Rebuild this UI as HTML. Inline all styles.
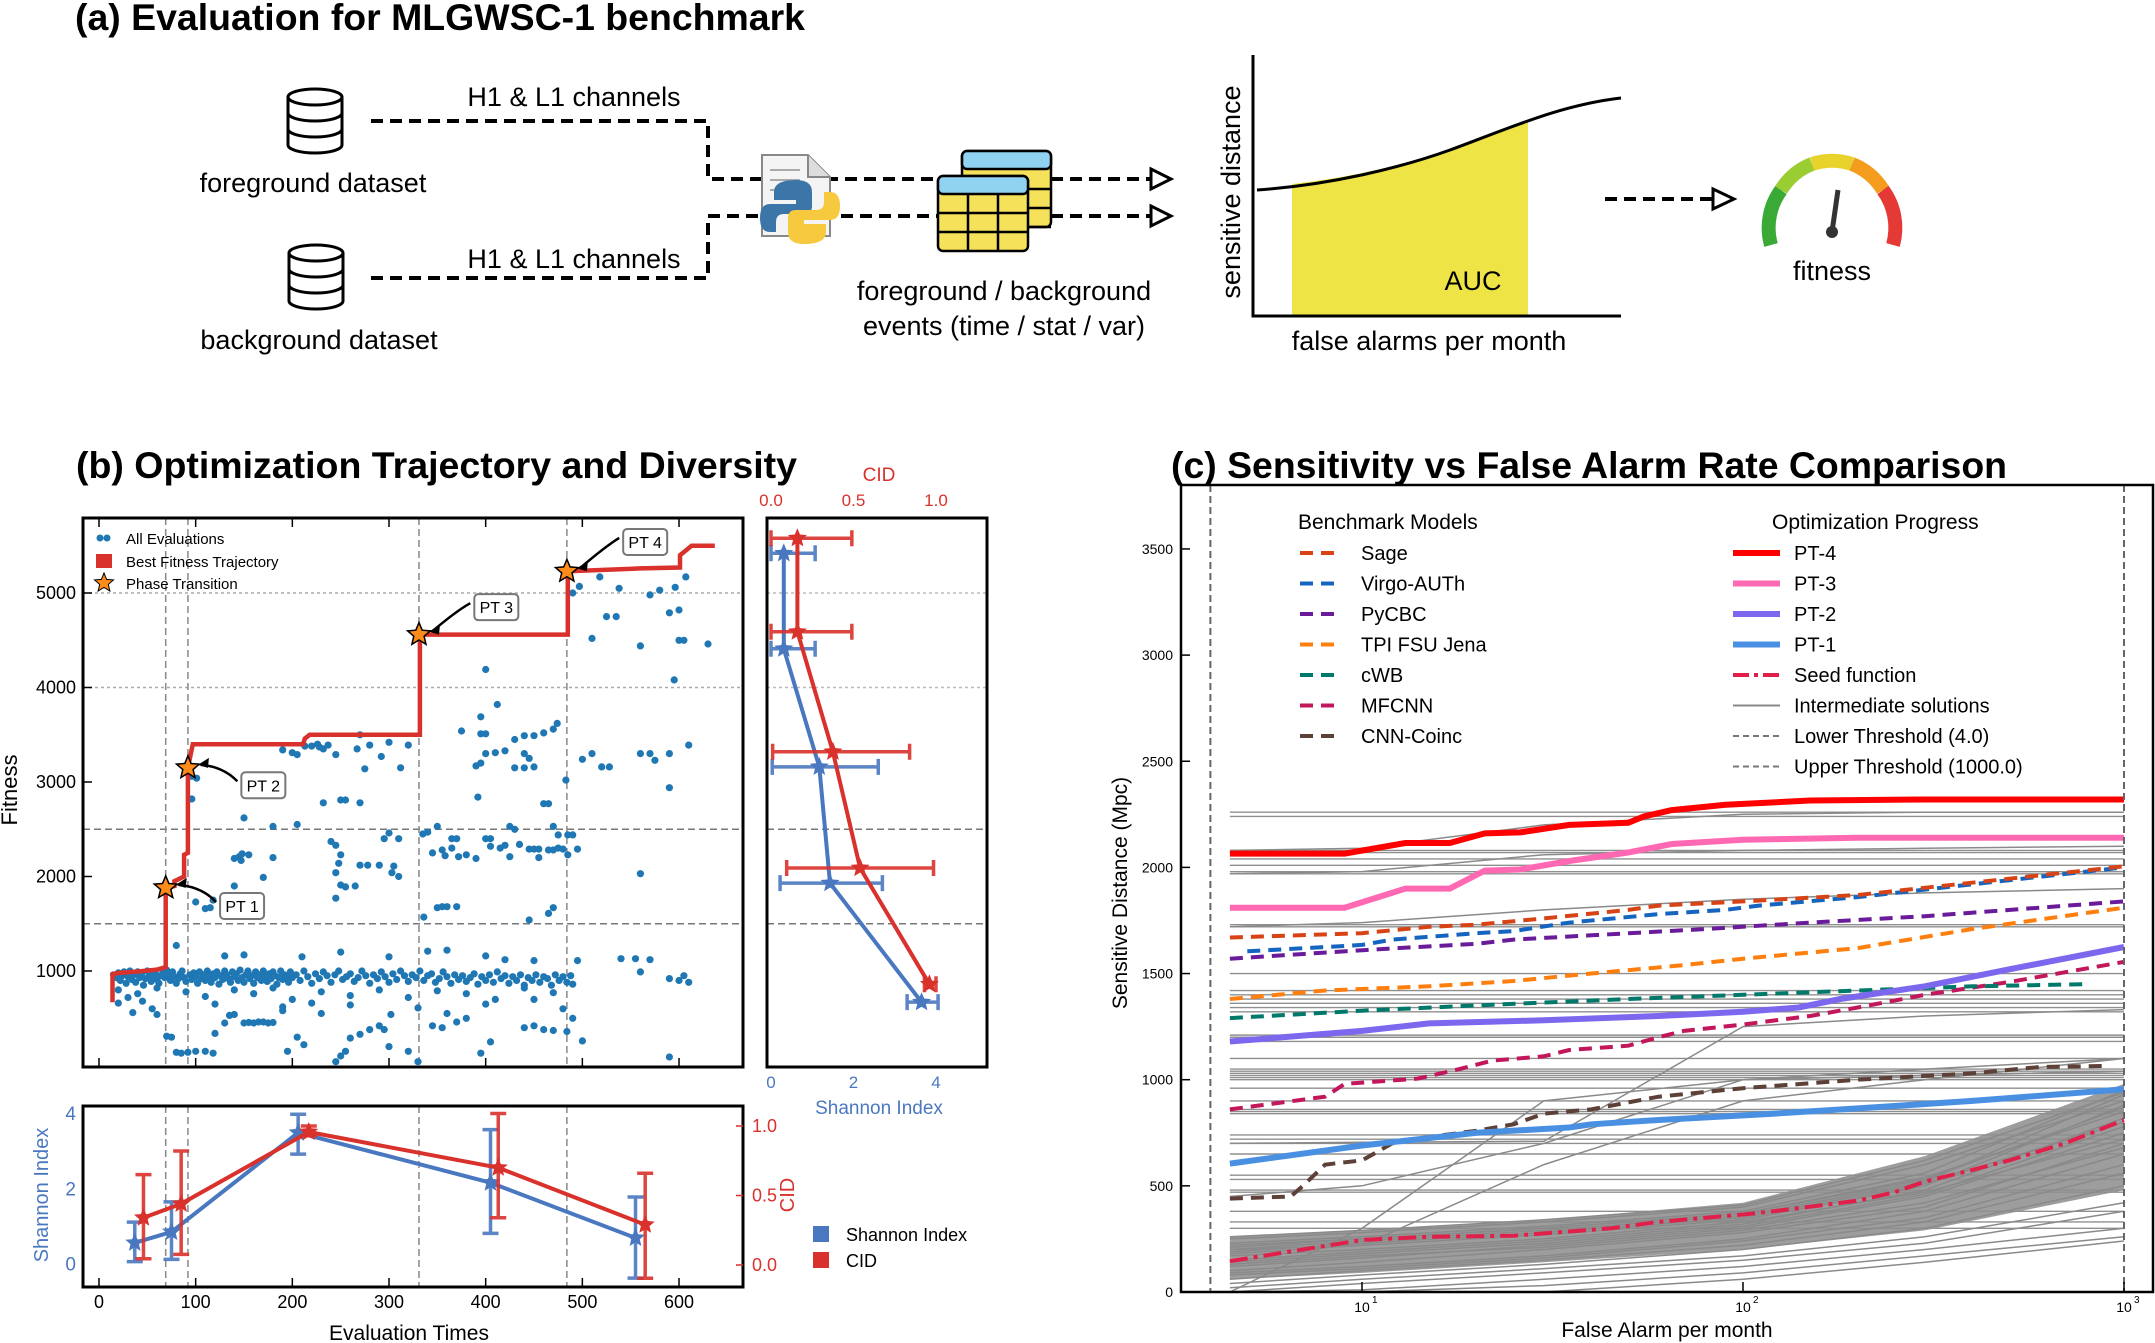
<!DOCTYPE html>
<html><head><meta charset="utf-8">
<style>
html,body{margin:0;padding:0;background:#fff;}
svg{display:block;font-family:"Liberation Sans",sans-serif;}
</style></head>
<body>
<svg id="fig" xmlns="http://www.w3.org/2000/svg" width="2155" height="1343" viewBox="0 0 2155 1343">
<defs>
<clipPath id="clipB"><rect x="83" y="518" width="660" height="549"/></clipPath>
<clipPath id="clipS"><rect x="767" y="518" width="220" height="549"/></clipPath>
<clipPath id="clipBot"><rect x="83" y="1106" width="660" height="181"/></clipPath>
<clipPath id="clipC"><rect x="1181" y="485" width="972" height="807"/></clipPath>
</defs>
<!-- Panel (a) -->
<g>
<text x="75" y="30" font-size="37" font-weight="bold" textLength="730" lengthAdjust="spacingAndGlyphs">(a) Evaluation for MLGWSC-1 benchmark</text>
<g fill="#fff" stroke="#000" stroke-width="3">
<path d="M288,97 v48 a27,8 0 0 0 54,0 v-48"/><ellipse cx="315" cy="97" rx="27" ry="8"/><path d="M288,113 a27,8 0 0 0 54,0 M288,129 a27,8 0 0 0 54,0" fill="none"/></g>
<g fill="#fff" stroke="#000" stroke-width="3">
<path d="M289,253 v48 a27,8 0 0 0 54,0 v-48"/><ellipse cx="316" cy="253" rx="27" ry="8"/><path d="M289,269 a27,8 0 0 0 54,0 M289,285 a27,8 0 0 0 54,0" fill="none"/></g>
<text x="313" y="192" font-size="27" text-anchor="middle">foreground dataset</text>
<text x="319" y="349" font-size="27" text-anchor="middle">background dataset</text>
<text x="574" y="106" font-size="27" text-anchor="middle">H1 &amp; L1 channels</text>
<text x="574" y="268" font-size="27" text-anchor="middle">H1 &amp; L1 channels</text>
<g fill="none" stroke="#000" stroke-width="4" stroke-dasharray="12 7">
<path d="M371,121 H708 V179 H940"/><path d="M371,278 H708 V216 H940"/>
<path d="M1051,179 H1150"/><path d="M1051,216 H1150"/><path d="M1605,199 H1712"/></g>
<g fill="#fff" stroke="#000" stroke-width="3">
<path d="M1151,169 L1171,179 L1151,189 Z"/><path d="M1151,206 L1171,216 L1151,226 Z"/><path d="M1713,189 L1734,199 L1713,209 Z"/></g>
<g>
<path d="M762,155 H808 L830,177 V236 H762 Z" fill="#f4f4f4" stroke="#888" stroke-width="2"/>
<path d="M808,155 V177 H830" fill="#ddd" stroke="#888" stroke-width="2"/>
<g stroke="#aaa" stroke-width="2"><line x1="770" y1="170" x2="800" y2="170"/><line x1="770" y1="180" x2="800" y2="180"/><line x1="770" y1="190" x2="790" y2="190"/></g>
<path d="M796,180 q-22,0 -22,12 v8 h22 v4 h-26 q-10,0 -10,14 q0,14 10,14 h6 v-10 q0,-8 8,-8 h20 q8,0 8,-8 v-14 q0,-12 -16,-12z" fill="#3c75a8"/>
<path d="M804,244 q22,0 22,-12 v-8 h-22 v-4 h26 q10,0 10,-14 q0,-14 -10,-14 h-6 v10 q0,8 -8,8 h-20 q-8,0 -8,8 v14 q0,12 16,12z" fill="#f7c93e"/>
</g>
<g stroke="#000" stroke-width="2.5">
<rect x="962" y="151" width="89" height="76" rx="5" fill="#f5e15a"/><rect x="962" y="151" width="89" height="18" rx="5" fill="#8fd3f0"/>
<rect x="938" y="176" width="90" height="75" rx="5" fill="#f5e15a"/><rect x="938" y="176" width="90" height="18" rx="5" fill="#8fd3f0"/>
<path d="M938,213 H1028 M938,232 H1028 M968,194 V251 M998,194 V251 M1028,189 H1051 M1028,208 H1051 M1028,227 H1051" fill="none"/>
</g>
<text x="1004" y="300" font-size="27" text-anchor="middle">foreground / background</text>
<text x="1004" y="335" font-size="27" text-anchor="middle">events (time / stat / var)</text>
<g>
<path d="M1292,184 C1360,176 1400,165 1450,150 C1480,140 1505,128 1528,121 V316 H1292 Z" fill="#efe445"/>
<path d="M1257,190 C1330,185 1400,168 1450,150 C1510,128 1560,105 1621,98" fill="none" stroke="#000" stroke-width="3"/>
<path d="M1253,55 V316 H1621" fill="none" stroke="#000" stroke-width="3"/>
<text x="1473" y="290" font-size="27" text-anchor="middle">AUC</text>
<text x="0" y="0" font-size="27" text-anchor="middle" transform="translate(1240,192) rotate(-90)">sensitive distance</text>
<text x="1429" y="350" font-size="27" text-anchor="middle">false alarms per month</text>
</g>
<g fill="none" stroke-width="14">
<path d="M1771,245 A64,64 0 0 1 1781,190" stroke="#3aa935"/>
<path d="M1781,190 A64,64 0 0 1 1812,164" stroke="#9acd32"/>
<path d="M1812,164 A64,64 0 0 1 1852,164" stroke="#e8d22c"/>
<path d="M1852,164 A64,64 0 0 1 1883,190" stroke="#f39c1e"/>
<path d="M1883,190 A64,64 0 0 1 1893,245" stroke="#e53935"/>
<path d="M1832,232 L1838,190" stroke="#333" stroke-width="5"/>
<circle cx="1832" cy="232" r="6" fill="#333" stroke="none"/>
</g>
<text x="1832" y="280" font-size="27" text-anchor="middle">fitness</text>
</g>
<text x="76" y="478" font-size="37" font-weight="bold" textLength="721" lengthAdjust="spacingAndGlyphs">(b) Optimization Trajectory and Diversity</text>
<text x="1171" y="478" font-size="37" font-weight="bold" textLength="836" lengthAdjust="spacingAndGlyphs">(c) Sensitivity vs False Alarm Rate Comparison</text>
<g id="gB"></g><g id="gS"></g><g id="gBot"></g><g id="gC"></g>
</svg>
<script>
// ---------- DATA: panel (b) ----------
const phaseEvals=[69,92,331,484];
const phaseFitness=[1880,3150,4560,5230];
const phaseLabels=["PT 1","PT 2","PT 3","PT 4"];
const phaseLabelEvals=[148,170,411,565];
const phaseLabelFitness=[1688,2965,4850,5540];
const trajEvals=[14,14,20,40,60,69,69,78,78,88,88,92,92,97,211,213,218,332,332,485,485,560,601,601,613,637];
const trajFitness=[670,965,980,995,1015,1040,1880,1900,1950,2000,2230,2250,3150,3400,3400,3460,3500,3500,4560,4560,5230,5260,5270,5400,5500,5500];
const scatterUpper="497 5070,518 5170,538 5050,570 4980,590 4790,596 5060,607 5170,580 5030,535 4750,525 4750,510 4520,560 4440,600 4500,605 4500,630 4460,600 4820,595 4080,490 5000,400 4190,412 3820,395 3690,395 3510,400 3510,375 3540,470 3560,474 3620,460 3520,440 3490,450 3490,430 3450,410 3310,400 3300,420 3330,440 3300,445 3250,450 3160,395 3200,390 3170,430 3150,440 3150,500 3240,510 3300,520 3160,528 3160,560 3300,570 3300,575 3230,590 3300,610 3390,590 2940,483 3020,392 2840,460 2770,465 2770,190 3340,200 3310,205 3290,213 3380,220 3380,226 3400,228 3370,232 3350,237 3390,245 3290,267 3350,270 3500,280 3390,300 3420,320 3390,292 3270,275 3140,312 3150,232 2780,270 2780,250 2810,255 2810,96 3060,101 3040,96 2820,150 2620,180 2530,205 2550,300 2460,295 2400,310 2400,335 2450,340 2470,350 2530,365 2400,370 2400,400 2400,405 2400,420 2330,435 2340,445 2290,450 2290,455 2290,465 2280,470 2280,475 2300,480 2290,485 2230,495 2290,470 2530,475 2440,485 2440,490 2440,425 2530,345 2250,355 2280,358 2220,365 2300,372 2210,380 2230,390 2190,405 2320,415 2300,425 2210,455 2200,430 2500,240 2370,245 2330,250 2230,248 2140,270 2120,278 2120,290 2120,305 2110,303 2040,310 2000,245 2040,140 2190,145 2210,148 2240,147 2170,155 2230,180 2200,170 1990,250 1910,255 1890,265 1900,245 1770,140 1900,350 1670,355 1680,360 1680,370 1680,336 1570,445 1540,465 1610,470 1670,560 2030,100 1730,110 1660,115 1670,118 1750";
const scatterBand="15 960,18 930,20 980,22 900,24 950,26 990,28 870,30 940,32 1000,34 910,36 960,38 880,40 990,42 930,44 970,46 850,48 920,50 1000,52 960,54 890,56 940,58 980,60 910,62 870,64 950,66 1000,68 930,72 960,74 900,76 990,78 940,80 870,82 920,84 970,86 1000,88 930,90 890,94 960,96 910,98 980,100 940,102 870,104 990,106 920,108 960,110 900,112 1000,114 940,116 880,118 970,120 930,122 990,124 860,126 950,128 910,130 1000,132 960,134 920,136 880,138 990,140 940,142 970,144 900,146 1010,148 930,150 880,152 960,154 1000,156 920,158 950,160 870,162 990,164 930,166 960,168 900,170 1000,172 940,174 890,176 970,178 920,180 990,182 950,184 860,186 930,188 1000,190 910,192 960,194 940,196 880,198 990,200 930,204 960,208 900,212 1000,216 940,220 870,224 970,228 920,232 990,236 950,240 880,244 960,248 1000,252 910,256 940,260 970,264 890,268 930,272 1000,276 950,280 870,284 960,288 920,292 990,296 940,300 880,304 970,308 910,312 1000,316 950,320 890,324 960,328 930,332 1000,336 900,340 950,344 970,348 880,352 920,356 990,360 940,364 870,368 960,372 910,376 950,380 890,384 930,388 970,392 860,396 940,400 900,404 960,408 880,412 990,416 920,420 950,424 870,428 940,432 900,436 960,440 850,444 930,448 900,452 960,456 880,460 940,464 920,468 850,472 960,476 900,480 940,484 880,488 950,490 860,20 800,40 760,60 820,90 780,110 730,140 800,160 760,180 820,200 700,230 780,260 740,290 800,320 720,350 790,380 760,410 700,440 820,470 770,120 650,190 620,260 640,330 610,400 650,450 700";
const scatterLower="20 660,30 720,35 560,45 680,55 600,70 310,75 300,60 540,80 140,85 130,92 140,100 150,110 150,118 130,120 340,130 450,135 530,140 540,150 450,155 455,160 450,165 460,170 460,175 450,180 455,190 580,195 150,205 300,212 220,220 660,230 550,245 40,250 100,255 150,260 290,270 330,280 380,290 420,295 380,302 540,300 200,320 150,330 40,345 420,355 400,360 550,370 460,380 500,395 130,405 250,440 400,450 420,460 380,470 370,484 360,500 260,480 600,490 500,590 920,600 900,610 880,605 950,540 1130,555 1130,570 1120,495 1110,560 990,340 1210,360 1220,400 1160,420 1120,450 1110,150 1170,130 1160,210 1150,250 1200,300 1150,80 1270,70 1010,590 90";
// side panel diversity vs fitness
const sideShFit=[5420,4410,3160,1930,670];
const sideShVal=[0.31,0.31,1.17,1.43,3.65];
const sideShLo=[0,0,0.03,0.22,3.3];
const sideShHi=[1.07,1.07,2.6,2.7,4.05];
const sideCidFit=[5580,4590,3320,2090,860];
const sideCidVal=[0.16,0.16,0.375,0.54,0.96];
const sideCidLo=[0,0,0.01,0.095,0.93];
const sideCidHi=[0.49,0.49,0.84,0.985,1.0];
// bottom panel
const botShEval=[37,75,206,405,555];
const botShVal=[0.55,0.84,3.48,2.15,0.68];
const botShLo=[0.05,0.11,2.91,0.8,-0.39];
const botShHi=[1.1,1.64,3.97,3.56,1.77];
const botCidEval=[46,85,217,413,565];
const botCidVal=[0.34,0.44,0.957,0.70,0.29];
const botCidLo=[0.045,0.076,0.93,0.34,-0.095];
const botCidHi=[0.65,0.82,1.0,1.09,0.66];
const fitTicks=[1000,2000,3000,4000,5000];
const evalTicks=[0,100,200,300,400,500,600];
// ---------- DATA: panel (c) ----------
const farGrid=[4.5,10,30,100,300,1000];
const pt4X=[4.5,9,13,17,21,26,35,50,55,65,90,150,300,1000];
const pt4Y=[2065,2065,2115,2115,2160,2165,2200,2210,2240,2270,2295,2315,2320,2320];
const pt3X=[4.5,9,13,17,21,26,35,50,65,100,200,1000];
const pt3Y=[1810,1810,1900,1900,1985,1990,2030,2070,2110,2130,2140,2140];
const pt2X=[4.5,10,15,30,60,100,140,180,300,500,1000];
const pt2Y=[1180,1230,1265,1280,1300,1320,1340,1380,1440,1520,1625];
const pt1X=[4.5,10,20,35,40,60,120,200,400,1000];
const pt1Y=[605,690,750,775,790,810,840,865,900,955];
const seedX=[4.5,7,10,15,25,35,45,60,100,120,200,250,300,400,500,700,1000];
const seedY=[145,200,245,260,265,285,300,330,365,380,430,470,520,575,620,700,810];
const sageX=[4.5,10,15,20,30,50,60,100,200,1000];
const sageY=[1670,1690,1720,1730,1760,1800,1820,1840,1870,2005];
const virgoX=[5,9,10,12,20,25,35,60,90,110,200,1000];
const virgoY=[1605,1630,1635,1660,1690,1700,1740,1780,1800,1820,1860,2000];
const pycbcX=[4.5,10,14,20,25,40,80,150,300,1000];
const pycbcY=[1570,1610,1625,1640,1660,1680,1710,1740,1770,1840];
const tpiX=[4.5,8,15,25,40,70,100,200,400,1000];
const tpiY=[1380,1420,1440,1465,1500,1540,1570,1620,1710,1810];
const cwbX=[4.5,10,20,50,100,200,400,800];
const cwbY=[1290,1325,1350,1380,1400,1420,1440,1450];
const mfcnnX=[4.5,8,9,14,18,22,30,35,50,60,70,100,150,200,300,500,1000];
const mfcnnY=[860,920,980,1005,1050,1090,1110,1140,1160,1200,1230,1260,1300,1340,1400,1460,1555];
const coincX=[4.5,6.5,7,8,10,12,15,20,25,30,40,60,100,200,400,600,900];
const coincY=[440,450,500,600,620,700,730,760,790,840,860,920,960,1000,1030,1060,1065];
const grayFlat=[2260,2240,2080,2070,2040,2010,1980,1970,1730,1720,1500,1420,1400,1380,1360,1340,1320,1210,1200,1180,1100,1050,1040,1030,1020,1010,1000,960,900,860,850,840,740,720,700,650,550,530,480,470,380,330,300];
const grayRising=[[90,120,170,250,380,650],[120,160,220,300,450,750],[150,190,240,320,480,820],[180,220,270,340,500,880],[200,240,290,360,520,930],[230,260,310,380,560,950],[250,280,330,400,600,900],[60,100,150,220,330,560],[40,80,130,200,300,500],[20,60,110,170,260,420],[0,40,90,150,230,380],[100,140,200,280,400,700],[140,180,230,310,460,780],[210,250,300,370,540,850],[170,200,250,330,470,720],[80,110,160,240,350,600],[260,290,340,410,620,940],[130,170,210,290,420,680],[190,230,280,350,510,800],[220,250,300,370,530,870],[0,10,60,120,200,300],[0,0,30,90,170,260],[0,0,0,60,140,240],[700,705,710,1250,1300,1330],[450,500,700,1000,1050,1100],[0,300,900,1000,1020,1040],[200,220,600,900,1000,1100],[1720,1740,1800,1850,1880,1900],[1970,1980,2060,2080,2090,2100],[2080,2090,2200,2250,2260,2260]];
const bandLow=[60,90,140,200,290,480];
const bandHigh=[260,290,340,420,640,980];
const cYTicks=[0,500,1000,1500,2000,2500,3000,3500];
const cXTicks=[10,100,1000];
const cXTickLabels=["1","2","3"];

// ---------- helpers ----------
const NS="http://www.w3.org/2000/svg";
function mk(parent,tag,attrs,text){const e=document.createElementNS(NS,tag);for(const k in attrs)e.setAttribute(k,attrs[k]);if(text!==undefined)e.textContent=text;parent.appendChild(e);return e;}
function starPath(x,y,R){let d="";for(let i=0;i<10;i++){const r=i%2?R*0.45:R;const a=-Math.PI/2+i*Math.PI/5;d+=(i?"L":"M")+(x+r*Math.cos(a)).toFixed(1)+","+(y+r*Math.sin(a)).toFixed(1);}return d+"Z";}
function parsePts(s){return s.split(",").map(p=>p.trim().split(" ").map(Number));}

// scales
const bx=v=>99+v*0.9667;
const by=f=>971-(f-1000)*0.0945;
const sx=s=>771+s*41.25;
const cidx=c=>771+c*165;
const ySh=v=>1263.5-v*37.6;
const yC=c=>1265-c*139;
const lx=f=>1362+(Math.log10(f)-1)*381;
const ly=d=>1292-d*0.2123;

// ---------- panel (b) main ----------
const gB=document.getElementById("gB");


const gridB=mk(gB,"g",{stroke:"#777","stroke-width":1.5,fill:"none"});


[1500,2500].forEach(f=>{const l=mk(gridB,"line",{x1:83,x2:743,y1:by(f),y2:by(f),"stroke-dasharray":"7 4"});});
[4000,5000].forEach(f=>{const l=mk(gridB,"line",{x1:83,x2:743,y1:by(f),y2:by(f),"stroke-dasharray":"3 3",stroke:"#aaa"});});
phaseEvals.forEach(v=>{const l=mk(gridB,"line",{x1:bx(v),x2:bx(v),y1:518,y2:1067,"stroke-dasharray":"7 4",stroke:"#888"});});
const dots=mk(gB,"g",{fill:"#1f77b4","clip-path":"url(#clipB)"});


[scatterBand,scatterUpper,scatterLower].forEach(s=>parsePts(s).forEach(p=>{const c=mk(dots,"circle",{cx:bx(p[0]).toFixed(1),cy:by(p[1]).toFixed(1),r:3.6});}));
const traj=mk(gB,"polyline",{points:trajEvals.map((v,i)=>bx(v).toFixed(1)+","+by(trajFitness[i]).toFixed(1)).join(" "),fill:"none",stroke:"#d9312b","stroke-width":4.5,"clip-path":"url(#clipB)"});


phaseEvals.forEach((v,i)=>{
 const x=bx(v),y=by(phaseFitness[i]);
 const s=mk(gB,"path",{d:starPath(x,y,12),fill:"#ff8c1a",stroke:"#000","stroke-width":1.5});
 
 
 const lx0=bx(phaseLabelEvals[i]),ly0=by(phaseLabelFitness[i]);
 const ar=mk(gB,"path",{d:`M${lx0-26},${ly0-4} Q${lx0-40},${(ly0+y)/2-10} ${x+13},${y-3}`,fill:"none",stroke:"#000","stroke-width":2.5});
 
 
 const ah=mk(gB,"path",{d:`M${x+10},${y-3} l11,-7 l-1,10 z`,fill:"#000"});
 
 
 const bxr=mk(gB,"rect",{x:lx0-22,y:ly0-13,width:44,height:26,rx:4,fill:"#fff",stroke:"#777","stroke-width":2});
 
 
 const t=mk(gB,"text",{x:lx0,y:ly0+6,"font-size":16,"text-anchor":"middle"},phaseLabels[i]);
 
 
});
const frameB=mk(gB,"rect",{x:83,y:518,width:660,height:549,fill:"none",stroke:"#000","stroke-width":3});


fitTicks.forEach(f=>{
 const t=mk(gB,"text",{x:76,y:by(f)+6,"font-size":18,"text-anchor":"end"},String(f));
 
 
 const tk=mk(gB,"line",{x1:83,x2:92,y1:by(f),y2:by(f),stroke:"#000","stroke-width":1.5});
 
 
});
evalTicks.forEach(v=>{[518,1067].forEach(yy=>{const tk=mk(gB,"line",{x1:bx(v),x2:bx(v),y1:yy,y2:yy===518?527:1058,stroke:"#000","stroke-width":1.5});});});
const ylab=mk(gB,"text",{x:0,y:0,"font-size":22,"text-anchor":"middle",transform:"translate(17,790) rotate(-90)"},"Fitness");


// legend
const legB=mk(gB,"g",{"font-size":15});


const ld1=mk(legB,"circle",{cx:100,cy:538,r:3.5,fill:"#1f77b4"});
const ld2=mk(legB,"circle",{cx:107,cy:538,r:3.5,fill:"#1f77b4"});
const lt1=mk(legB,"text",{x:126,y:544},"All Evaluations");
const lr=mk(legB,"rect",{x:96,y:554,width:16,height:14,fill:"#d9312b"});
const lt2=mk(legB,"text",{x:126,y:567},"Best Fitness Trajectory");
const ls=mk(legB,"path",{d:starPath(104,583,10),fill:"#ff8c1a",stroke:"#000","stroke-width":1});
const lt3=mk(legB,"text",{x:126,y:589},"Phase Transition");

// ---------- side panel ----------
const gS=document.getElementById("gS");


[1500,2500].forEach(f=>{const l=mk(gS,"line",{x1:767,x2:987,y1:by(f),y2:by(f),stroke:"#777","stroke-width":1.5,"stroke-dasharray":"7 4"});});
[4000,5000].forEach(f=>{const l=mk(gS,"line",{x1:767,x2:987,y1:by(f),y2:by(f),stroke:"#bbb","stroke-width":1.5,"stroke-dasharray":"3 3"});});
function errSeries(g,xs,ys,lo,hi,fx,fy,color,name,horiz){
 const pl=mk(g,"polyline",{points:xs.map((v,i)=>horiz?fx(ys[i]).toFixed(1)+","+fy(v).toFixed(1):fx(v).toFixed(1)+","+fy(ys[i]).toFixed(1)).join(" "),fill:"none",stroke:color,"stroke-width":4});
 
 
 xs.forEach((v,i)=>{
  let d;
  if(horiz){const y=fy(v),a=fx(lo[i]),b=fx(hi[i]);d=`M${a},${y}H${b}M${a},${y-8}V${y+8}M${b},${y-8}V${y+8}`;}
  else{const x=fx(v),a=fy(lo[i]),b=fy(hi[i]);d=`M${x},${a}V${b}M${x-8},${a}H${x+8}M${x-8},${b}H${x+8}`;}
  const e=mk(g,"path",{d:d,stroke:color,"stroke-width":3.5,fill:"none",opacity:0.9});
  
  
  const px=horiz?fx(ys[i]):fx(v),py=horiz?fy(v):fy(ys[i]);
  const s=mk(g,"path",{d:starPath(px,py,10),fill:color});
  
  
 });
}
const gSc=mk(gS,"g",{"clip-path":"url(#clipS)"});


errSeries(gSc,sideShFit,sideShVal,sideShLo,sideShHi,sx,by,"#4a78c0","side-shannon",true);
errSeries(gSc,sideCidFit,sideCidVal,sideCidLo,sideCidHi,cidx,by,"#d9312b","side-cid",true);
const frS=mk(gS,"rect",{x:767,y:518,width:220,height:549,fill:"none",stroke:"#000","stroke-width":3});


[0,0.5,1.0].forEach(c=>{const t=mk(gS,"text",{x:cidx(c),y:506,"font-size":17,"text-anchor":"middle",fill:"#d9312b"},c.toFixed(1));});
[0,2,4].forEach(s=>{const t=mk(gS,"text",{x:sx(s),y:1088,"font-size":17,"text-anchor":"middle",fill:"#4a78c0"},String(s));});
const ct=mk(gS,"text",{x:879,y:481,"font-size":19,"text-anchor":"middle",fill:"#d9312b"},"CID");
const st=mk(gS,"text",{x:879,y:1114,"font-size":19,"text-anchor":"middle",fill:"#4a78c0"},"Shannon Index");

// ---------- bottom panel ----------
const gBot=document.getElementById("gBot");


phaseEvals.forEach(v=>{const l=mk(gBot,"line",{x1:bx(v),x2:bx(v),y1:1106,y2:1287,stroke:"#888","stroke-width":1.5,"stroke-dasharray":"7 4"});});
const gBc=mk(gBot,"g",{"clip-path":"url(#clipBot)"});


errSeries(gBc,botShEval,botShVal,botShLo,botShHi,bx,ySh,"#4a78c0","bottom-shannon",false);
errSeries(gBc,botCidEval,botCidVal,botCidLo,botCidHi,bx,yC,"#d9312b","bottom-cid",false);
const frBot=mk(gBot,"rect",{x:83,y:1106,width:660,height:181,fill:"none",stroke:"#000","stroke-width":3});


evalTicks.forEach(v=>{
 const t=mk(gBot,"text",{x:bx(v),y:1308,"font-size":18,"text-anchor":"middle"},String(v));
 
 
 const tk=mk(gBot,"line",{x1:bx(v),x2:bx(v),y1:1287,y2:1278,stroke:"#000","stroke-width":1.5});
 
 
});
[0,2,4].forEach(s=>{const t=mk(gBot,"text",{x:76,y:ySh(s)+7,"font-size":19,"text-anchor":"end",fill:"#4a78c0"},String(s));});
[0,0.5,1.0].forEach(c=>{const t=mk(gBot,"text",{x:752,y:yC(c)+6,"font-size":18,fill:"#d9312b"},c.toFixed(1));const tk=mk(gBot,"line",{x1:736,x2:743,y1:yC(c),y2:yC(c),stroke:"#d9312b","stroke-width":1.5});});
const sht=mk(gBot,"text",{x:0,y:0,"font-size":20,"text-anchor":"middle",fill:"#4a78c0",transform:"translate(48,1195) rotate(-90)"},"Shannon Index");
const cit=mk(gBot,"text",{x:0,y:0,"font-size":20,"text-anchor":"middle",fill:"#d9312b",transform:"translate(794,1195) rotate(-90)"},"CID");
const ext=mk(gBot,"text",{x:409,y:1340,"font-size":21,"text-anchor":"middle"},"Evaluation Times");
const lg1=mk(gBot,"rect",{x:813,y:1226,width:16,height:16,fill:"#4a78c0"});
const lg1t=mk(gBot,"text",{x:846,y:1241,"font-size":18},"Shannon Index");
const lg2=mk(gBot,"rect",{x:813,y:1252,width:16,height:16,fill:"#d9312b"});
const lg2t=mk(gBot,"text",{x:846,y:1267,"font-size":18},"CID");

// ---------- panel (c) ----------
const gC=document.getElementById("gC");


const gCc=mk(gC,"g",{"clip-path":"url(#clipC)"});


const band=mk(gCc,"polygon",{points:farGrid.map((f,i)=>lx(f).toFixed(1)+","+ly(bandHigh[i]).toFixed(1)).concat(farGrid.slice().reverse().map((f,j)=>lx(f).toFixed(1)+","+ly(bandLow[farGrid.length-1-j]).toFixed(1))).join(" "),fill:"#8c8c8c",opacity:0.85});


grayFlat.forEach(d=>{const l=mk(gCc,"line",{x1:lx(4.5),x2:lx(1000),y1:ly(d),y2:ly(d),stroke:"#8f8f8f","stroke-width":1.4});});
grayRising.forEach(r=>{const l=mk(gCc,"polyline",{points:farGrid.map((f,i)=>lx(f).toFixed(1)+","+ly(r[i]).toFixed(1)).join(" "),fill:"none",stroke:"#8a8a8a","stroke-width":1.5});});
function cLine(xs,ys,color,w,dash,name){
 const attrs={points:xs.map((f,i)=>lx(f).toFixed(1)+","+ly(ys[i]).toFixed(1)).join(" "),fill:"none",stroke:color,"stroke-width":w};
 if(dash)attrs["stroke-dasharray"]=dash;
 const l=mk(gCc,"polyline",attrs);
 
 
}
cLine(coincX,coincY,"#5d4037",4,"13 8","cnn-coinc-curve");
cLine(mfcnnX,mfcnnY,"#c2185b",4,"13 8","mfcnn-curve");
cLine(cwbX,cwbY,"#00796b",4,"13 8","cwb-curve");
cLine(tpiX,tpiY,"#ff7f0e",4,"13 8","tpi-fsu-jena-curve");
cLine(pycbcX,pycbcY,"#6a1b9a",4,"13 8","pycbc-curve");
cLine(virgoX,virgoY,"#1565c0",4,"13 8","virgo-auth-curve");
cLine(sageX,sageY,"#d84315",4,"13 8","sage-curve");
cLine(seedX,seedY,"#e0204a",4,"18 6 4 6","seed-function-curve");
cLine(pt1X,pt1Y,"#4a90e2",6,null,"pt-1-curve");
cLine(pt2X,pt2Y,"#7b68ee",6,null,"pt-2-curve");
cLine(pt3X,pt3Y,"#ff69b4",6,null,"pt-3-curve");
cLine(pt4X,pt4Y,"#ff0000",6,null,"pt-4-curve");
[4,1000].forEach(f=>{const l=mk(gC,"line",{x1:lx(f),x2:lx(f),y1:485,y2:1292,stroke:"#666","stroke-width":2,"stroke-dasharray":"7 4"});});
const frC=mk(gC,"rect",{x:1181,y:485,width:972,height:807,fill:"none",stroke:"#000","stroke-width":2.5});


cYTicks.forEach(d=>{
 const t=mk(gC,"text",{x:1173,y:ly(d)+5,"font-size":14,"text-anchor":"end"},String(d));
 
 
 const tk=mk(gC,"line",{x1:1181,x2:1190,y1:ly(d),y2:ly(d),stroke:"#000","stroke-width":1.5});
 
 
});
cXTicks.forEach((f,i)=>{
 const t=mk(gC,"text",{x:lx(f),y:1312,"font-size":14,"text-anchor":"middle"},"10");
 
 
 const e=mk(gC,"text",{x:lx(f)+10,y:1303,"font-size":10},cXTickLabels[i]);
 
 
 const tk=mk(gC,"line",{x1:lx(f),x2:lx(f),y1:1292,y2:1282,stroke:"#000","stroke-width":1.5});
 
 
});
const cxl=mk(gC,"text",{x:1667,y:1337,"font-size":21,"text-anchor":"middle"},"False Alarm per month");
const cyl=mk(gC,"text",{x:0,y:0,"font-size":21,"text-anchor":"middle",transform:"translate(1127,893) rotate(-90)"},"Sensitive Distance (Mpc)");
// legends
const benchNames=["Sage","Virgo-AUTh","PyCBC","TPI FSU Jena","cWB","MFCNN","CNN-Coinc"];
const benchColors=["#d84315","#1565c0","#6a1b9a","#ff7f0e","#00796b","#c2185b","#5d4037"];
const progNames=["PT-4","PT-3","PT-2","PT-1","Seed function","Intermediate solutions","Lower Threshold (4.0)","Upper Threshold (1000.0)"];
const progColors=["#ff0000","#ff69b4","#7b68ee","#4a90e2","#e0204a","#888","#777","#777"];
const legC=mk(gC,"g",{"font-size":20});


const lt=mk(legC,"text",{x:1298,y:529,"font-size":21},"Benchmark Models");
const rt=mk(legC,"text",{x:1772,y:529,"font-size":21},"Optimization Progress");
benchNames.forEach((n,i)=>{const y=553+i*30.5;
 const l=mk(legC,"line",{x1:1300,x2:1341,y1:y,y2:y,stroke:benchColors[i],"stroke-width":4,"stroke-dasharray":"13 8"});
 const t=mk(legC,"text",{x:1361,y:y+7},n);});
progNames.forEach((n,i)=>{const y=553+i*30.5;
 const attrs={x1:1733,x2:1780,y1:y,y2:y,stroke:progColors[i],"stroke-width":i<4?6:(i===4?4:2)};
 if(i===4)attrs["stroke-dasharray"]="16 5 4 5"; if(i>=6)attrs["stroke-dasharray"]="6 4";
 const l=mk(legC,"line",attrs);
 const t=mk(legC,"text",{x:1794,y:y+7},n);});
</script>
</body></html>
